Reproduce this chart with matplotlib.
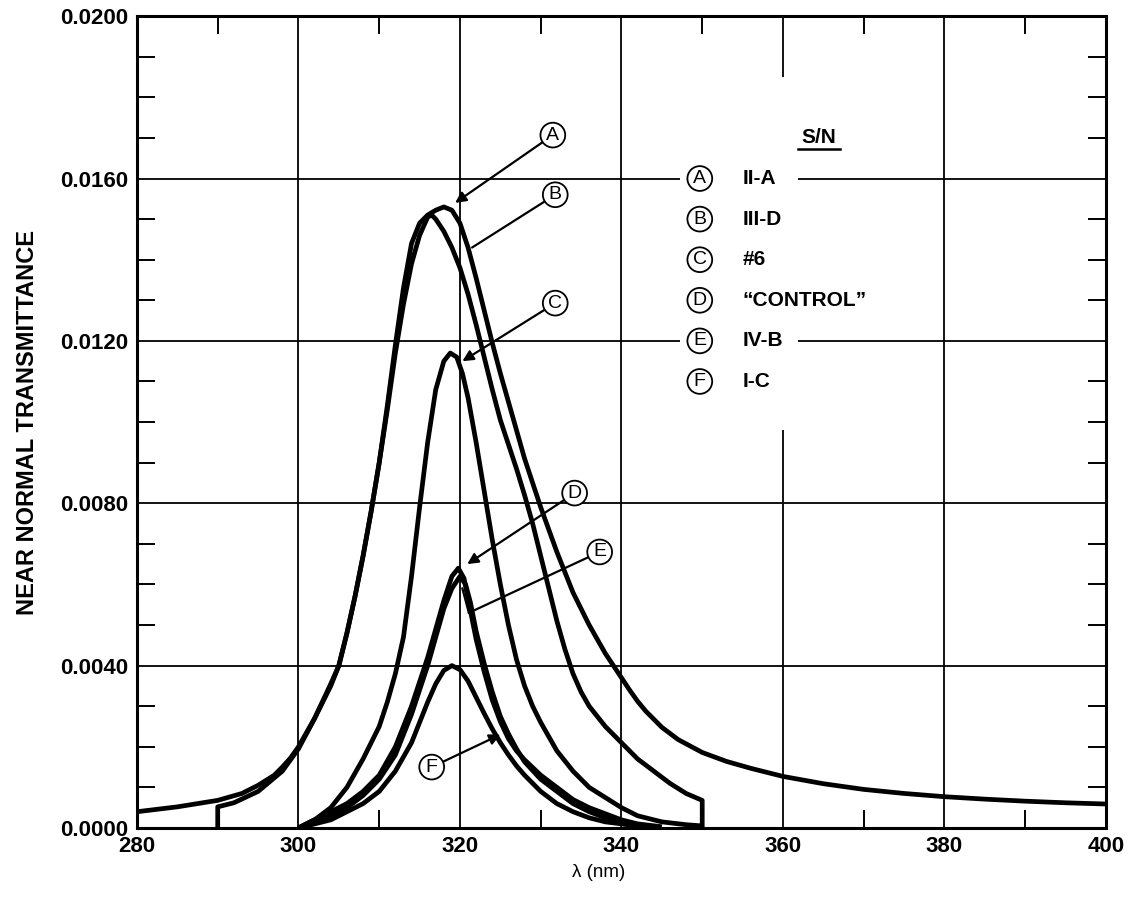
import matplotlib
matplotlib.use('Agg')
import matplotlib.pyplot as plt
from matplotlib.ticker import MultipleLocator, FormatStrFormatter

plt.rcParams['font.family'] = ['Liberation Sans', 'DejaVu Sans']

# curve A  (S/N II-A)
a_x = [280, 285, 290, 293, 295, 297, 298, 299, 300, 302, 304, 305, 306, 307, 308, 309, 310, 311,
       312, 313, 314, 315, 316, 317, 318, 319, 320, 321, 322, 323, 324, 325, 326, 327, 328, 329,
       330, 332, 334, 336, 338, 340, 341, 342, 343, 345, 347, 350, 353, 356, 360, 365, 370, 375,
       380, 385, 390, 395, 400]
a_y = [0.00040, 0.00052, 0.00068, 0.00085, 0.00105, 0.00130, 0.00150, 0.00172, 0.00200, 0.00270,
       0.00350, 0.00400, 0.00480, 0.00570, 0.00670, 0.00780, 0.00900, 0.01040, 0.01190, 0.01330,
       0.01440, 0.01490, 0.01510, 0.01522, 0.01530, 0.01522, 0.01490, 0.01430, 0.01355, 0.01275,
       0.01195, 0.01120, 0.01050, 0.00980, 0.00910, 0.00850, 0.00790, 0.00680, 0.00580, 0.00500,
       0.00430, 0.00370, 0.00340, 0.00312, 0.00288, 0.00248, 0.00218, 0.00186, 0.00164, 0.00147,
       0.00127, 0.00109, 0.00095, 0.00085, 0.00077, 0.00071, 0.00066, 0.00062, 0.00059]

# curve B  (S/N III-D)
b_x = [290, 290, 292, 295, 298, 300, 302, 304, 305, 306, 307, 308, 309, 310, 311, 312, 313, 314,
       315, 316, 316.5, 317, 318, 319, 320, 321, 322, 323, 324, 325, 326, 327, 328, 329, 330, 331,
       332, 333, 334, 335, 336, 338, 340, 342, 344, 346, 348, 350, 350]
b_y = [0.0, 0.00052, 0.00062, 0.00090, 0.00140, 0.00195, 0.00270, 0.00355, 0.00400, 0.00480,
       0.00570, 0.00670, 0.00780, 0.00900, 0.01030, 0.01170, 0.01290, 0.01390, 0.01460, 0.01505,
       0.01510, 0.01500, 0.01470, 0.01430, 0.01380, 0.01315, 0.01240, 0.01160, 0.01080, 0.01005,
       0.00945, 0.00885, 0.00820, 0.00750, 0.00670, 0.00590, 0.00510, 0.00440, 0.00380, 0.00335,
       0.00300, 0.00250, 0.00210, 0.00170, 0.00140, 0.00110, 0.00085, 0.00068, 0.0]

# curve C  (S/N #6)
c_x = [300, 302, 304, 306, 308, 310, 311, 312, 313, 314, 315, 316, 317, 318, 318.8, 319.6, 320.3,
       321, 322, 323, 324, 325, 326, 327, 328, 329, 330, 332, 334, 336, 338, 340, 342, 345, 348, 350]
c_y = [0.0, 0.00020, 0.00050, 0.00100, 0.00170, 0.00250, 0.00310, 0.00380, 0.00470, 0.00620,
       0.00790, 0.00950, 0.01080, 0.01150, 0.01170, 0.01160, 0.01120, 0.01060, 0.00950, 0.00830,
       0.00710, 0.00600, 0.00500, 0.00415, 0.00350, 0.00300, 0.00260, 0.00190, 0.00140, 0.00100,
       0.00075, 0.00050, 0.00030, 0.00015, 0.00008, 0.00005]

# curve D  ("CONTROL")
d_x = [300, 302, 304, 306, 308, 310, 312, 313, 314, 315, 316, 317, 318, 319, 319.8, 320.5, 321,
       322, 323, 324, 325, 326, 327, 328, 330, 332, 334, 336, 338, 340, 342, 345]
d_y = [0.0, 0.00020, 0.00040, 0.00060, 0.00090, 0.00130, 0.00200, 0.00250, 0.00300, 0.00360,
       0.00420, 0.00490, 0.00560, 0.00620, 0.00640, 0.00615, 0.00565, 0.00465, 0.00385, 0.00315,
       0.00262, 0.00220, 0.00190, 0.00168, 0.00130, 0.00100, 0.00070, 0.00050, 0.00035, 0.00020,
       0.00010, 0.00003]

# curve E  (S/N IV-B)
e_x = [300, 302, 304, 306, 308, 310, 312, 313, 314, 315, 316, 317, 318, 319, 320, 320.7, 321.3,
       322, 323, 324, 325, 326, 327, 328, 330, 332, 334, 336, 338, 340, 343]
e_y = [0.0, 0.00020, 0.00030, 0.00050, 0.00080, 0.00120, 0.00180, 0.00230, 0.00280, 0.00340,
       0.00400, 0.00470, 0.00540, 0.00590, 0.00620, 0.00600, 0.00555, 0.00485, 0.00405, 0.00335,
       0.00275, 0.00232, 0.00195, 0.00163, 0.00120, 0.00090, 0.00060, 0.00040, 0.00025, 0.00015,
       0.00005]

# curve F  (S/N I-C)
f_x = [300, 302, 304, 306, 308, 310, 312, 314, 315, 316, 317, 318, 319, 320, 321, 322, 323, 324,
       325, 326, 327, 328, 330, 332, 334, 336, 338, 340, 342]
f_y = [0.0, 0.00010, 0.00020, 0.00040, 0.00060, 0.00090, 0.00140, 0.00210, 0.00260, 0.00310,
       0.00355, 0.00388, 0.00400, 0.00390, 0.00362, 0.00322, 0.00282, 0.00244, 0.00210, 0.00180,
       0.00153, 0.00130, 0.00090, 0.00060, 0.00040, 0.00025, 0.00015, 0.00010, 0.00004]

letters = ['A', 'B', 'C', 'D', 'E', 'F']
sn_labels = ['II-A', 'III-D', '#6', '\u201cCONTROL\u201d', 'IV-B', 'I-C']

fig = plt.figure(figsize=(11.32, 8.98), dpi=100)
ax = fig.add_axes([0.121, 0.078, 0.856, 0.904])

for xs, ys in [(a_x, a_y), (b_x, b_y), (c_x, c_y), (d_x, d_y), (e_x, e_y), (f_x, f_y)]:
    ax.plot(xs, ys, color='black', lw=3.4, solid_joinstyle='round', solid_capstyle='butt', zorder=3)

ax.set_xlim(280, 400)
ax.set_ylim(0, 0.02)
ax.xaxis.set_major_locator(MultipleLocator(20))
ax.xaxis.set_minor_locator(MultipleLocator(10))
ax.yaxis.set_major_locator(MultipleLocator(0.004))
ax.yaxis.set_minor_locator(MultipleLocator(0.001))
ax.yaxis.set_major_formatter(FormatStrFormatter('%.4f'))
ax.grid(True, which='major', color='black', lw=1.3, zorder=1)
ax.tick_params(which='both', direction='in', top=True, right=True)
ax.tick_params(which='major', length=0, pad=6)
ax.tick_params(which='minor', length=13, width=1.4)
ax.tick_params(axis='y', labelsize=16)
ax.tick_params(axis='x', labelsize=16)
for lab in ax.get_xticklabels() + ax.get_yticklabels():
    lab.set_fontweight('bold')
for s in ax.spines.values():
    s.set_linewidth(2.2)

ax.set_ylabel('NEAR NORMAL TRANSMITTANCE', fontsize=17, fontweight='bold')
ax.yaxis.set_label_coords(-0.101, 0.5)
ax.set_xlabel('\u03bb (nm)', fontsize=13.5)
ax.xaxis.set_label_coords(0.476, -0.045)

# legend block
circ = dict(boxstyle='circle,pad=0.2', fc='white', ec='black', lw=1.3)
ax.text(364.4, 0.01700, 'S/N', fontsize=15, fontweight='bold', ha='center', va='center')
ax.plot([361.8, 367.1], [0.01672, 0.01672], color='black', lw=1.8)
ax.fill_between([359.5, 360.5], 0.0098, 0.0185, color='white', lw=0, zorder=2)
leg_y = [0.016, 0.015, 0.014, 0.013, 0.012, 0.011]
for lt, lab, yy in zip(letters, sn_labels, leg_y):
    ax.fill_between([347.2, 361.8], yy - 0.00018, yy + 0.00018, color='white', lw=0, zorder=2)
    ax.text(349.7, yy, lt, fontsize=14, ha='center', va='center', bbox=circ, zorder=4)
    ax.text(355.0, yy, lab, fontsize=15, fontweight='bold', ha='left', va='center', zorder=4)

# pointers to the curves
arrow = dict(arrowstyle='-|>', color='black', lw=1.6, mutation_scale=16, shrinkA=0, shrinkB=0)
plain = dict(arrowstyle='-', color='black', lw=1.6, shrinkA=0, shrinkB=0)
ax.annotate('A', xy=(319.4, 0.0154), xytext=(331.5, 0.01707), fontsize=14, ha='center',
            va='center', bbox=circ, arrowprops=arrow, zorder=5)
ax.annotate('B', xy=(321.5, 0.0143), xytext=(331.8, 0.0156), fontsize=14, ha='center',
            va='center', bbox=circ, arrowprops=plain, zorder=5)
ax.annotate('C', xy=(320.3, 0.0115), xytext=(331.8, 0.01293), fontsize=14, ha='center',
            va='center', bbox=circ, arrowprops=arrow, zorder=5)
ax.annotate('D', xy=(320.9, 0.0065), xytext=(334.2, 0.00825), fontsize=14, ha='center',
            va='center', bbox=circ, arrowprops=arrow, zorder=5)
ax.annotate('E', xy=(321.1, 0.0053), xytext=(337.3, 0.0068), fontsize=14, ha='center',
            va='center', bbox=circ, arrowprops=plain, zorder=5)
ax.plot([321.1, 320.3], [0.0053, 0.0059], color='black', lw=1.6, zorder=5)
ax.annotate('F', xy=(325.0, 0.0023), xytext=(316.5, 0.0015), fontsize=14, ha='center',
            va='center', bbox=circ, arrowprops=arrow, zorder=5)

fig.savefig('out.png', dpi=100)
